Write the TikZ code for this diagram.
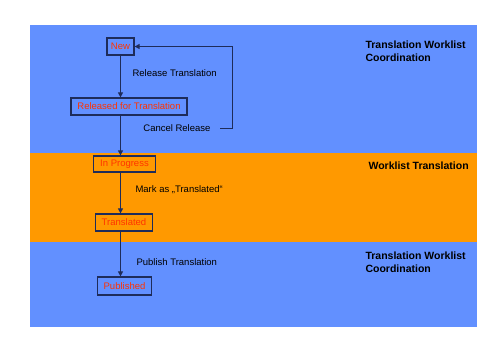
\documentclass[tikz,border=0pt]{standalone}
\usepackage{fontspec}
\setmainfont{Liberation Sans}
\usetikzlibrary{arrows.meta}
\definecolor{laneblue}{RGB}{98,144,255}
\definecolor{laneorange}{RGB}{255,153,0}
\definecolor{edgenavy}{RGB}{30,44,90}
\definecolor{statered}{RGB}{255,51,0}
\begin{document}
\begin{tikzpicture}[x=1pt,y=-1pt,
  every node/.style={font=\fontsize{9.5}{11}\selectfont},
  state/.style={draw=edgenavy,line width=1.2pt,text=statered,inner xsep=6.5pt,inner ysep=0pt,minimum height=17pt},
  arr/.style={-{Triangle[length=5pt,width=5pt]},draw=edgenavy,line width=1pt},
  lane/.style={font=\fontsize{10.5}{13}\selectfont\bfseries,align=left,anchor=west}]
  \useasboundingbox (0,0) rectangle (504,360);
  % swim lanes
  \fill[laneblue] (29.5,25) rectangle (477,153);
  \fill[laneorange] (29.5,153) rectangle (477,242);
  \fill[laneblue] (29.5,242) rectangle (477,327);
  \node[lane] (coord1) at (362,51.5) {Translation Worklist\\Coordination};
  \node[lane] (worklist) at (365,166) {Worklist Translation};
  \node[lane] (coord2) at (362,262.5) {Translation Worklist\\Coordination};
  % states
  \node[state,inner xsep=4pt] (new) at (120.5,46.5) {New};
  \node[state] (released) at (129,106.5) {Released for Translation};
  \node[state,minimum height=16pt] (progress) at (124.5,164) {In Progress};
  \node[state] (translated) at (124,222.5) {Translated};
  \node[state,minimum height=18pt] (published) at (124.5,286) {Published};
  % transitions
  \draw[arr] (new.south) -- (new.south |- released.north);
  \draw[arr] (new.south |- released.south) -- (new.south |- progress.north);
  \draw[arr] (new.south |- progress.south) -- (new.south |- translated.north);
  \draw[arr] (new.south |- translated.south) -- (new.south |- published.north);
  \node[anchor=west] (release) at (129,73) {Release Translation};
  \node[anchor=east] (cancel) at (214,128) {Cancel Release};
  \coordinate (cancelend) at (220,128);
  \draw[arr] (cancelend) -- ++(12,0) |- (new.east);
  \node[anchor=west] (mark) at (132,190) {Mark as „Translated“};
  \node[anchor=west] (publish) at (133,262) {Publish Translation};
\end{tikzpicture}
\end{document}
